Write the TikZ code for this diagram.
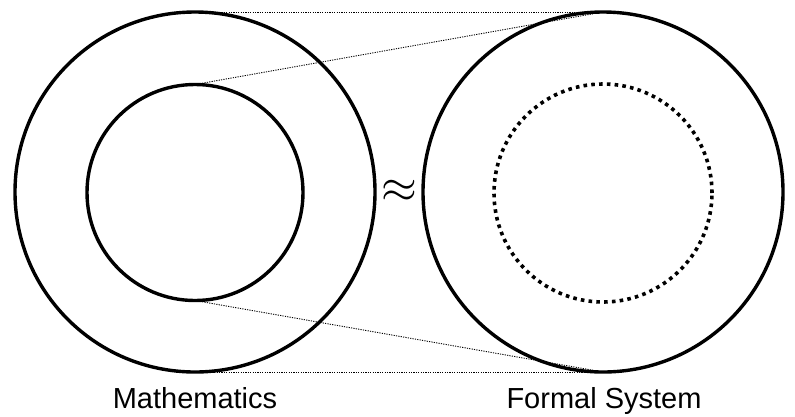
\documentclass[tikz,border=0pt]{standalone}
\usepackage{fontspec}
\setmainfont{Liberation Sans}
\begin{document}
\begin{tikzpicture}[x=1pt,y=-1pt,
  bigc/.style={circle,draw,line width=3.4pt,inner sep=0pt,outer sep=0pt,minimum size=360pt},
  innerc/.style={circle,draw,line width=3.4pt,inner sep=0pt,outer sep=0pt,minimum size=216pt},
  dotc/.style={circle,draw,line width=3.6pt,dash pattern=on 3.6pt off 4.2pt,inner sep=0pt,outer sep=0pt,minimum size=218pt},
  guide/.style={line width=0.9pt,dash pattern=on 1.2pt off 1.2pt},
  lab/.style={font=\fontsize{29}{34}\selectfont,inner sep=0pt,anchor=base}]
\useasboundingbox (0,0) rectangle (795,416);
\node[bigc] (L) at (195,192) {};
\node[innerc] (LI) at (195,192.5) {};
\node[bigc] (R) at (603,192) {};
\node[dotc] (RI) at (603,193) {};
\draw[guide] (L.north) -- (R.north);
\draw[guide] (LI.north) -- (R.north);
\draw[guide] (LI.south) -- (R.south);
\draw[guide] (L.south) -- (R.south);
\node[inner sep=0pt] (ap) at (399,191) {\scalebox{4.6}{$\approx$}};
\node[lab] (m) at (195,408) {Mathematics};
\node[lab] (f) at (604,408) {Formal System};
\end{tikzpicture}
\end{document}
